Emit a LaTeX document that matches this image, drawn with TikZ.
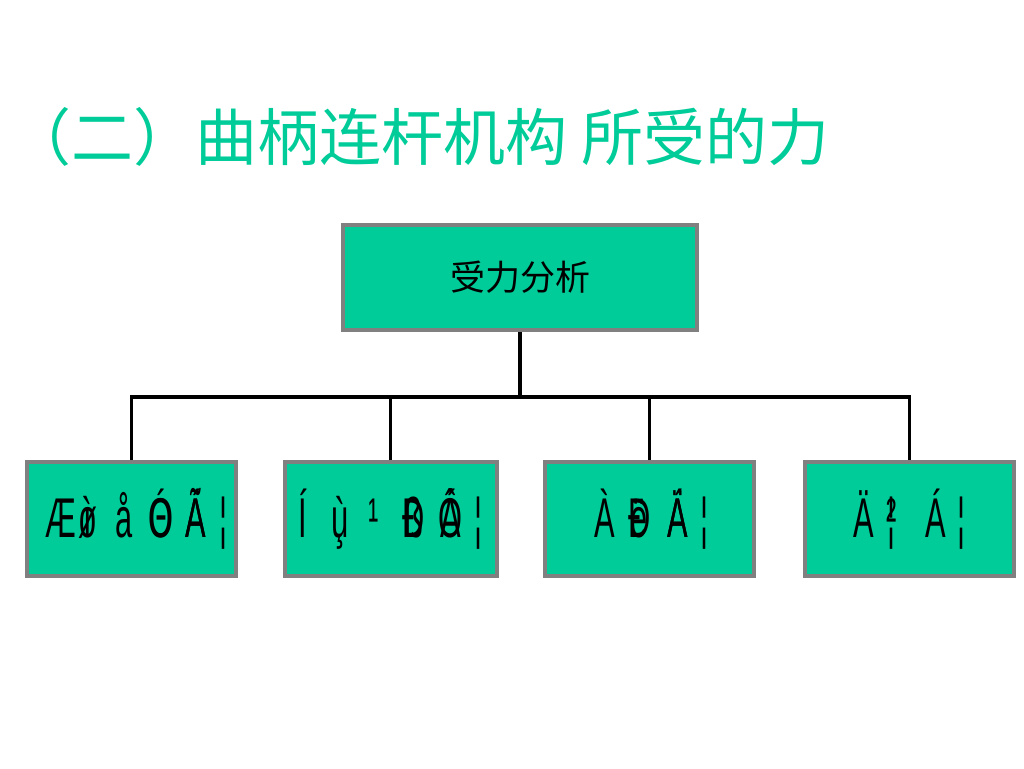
\documentclass[tikz,border=0pt]{standalone}
\usepackage{fontspec}
\usepackage{tikz}
\usepackage{xcolor}
\newfontfamily\cjk{Noto Sans CJK SC}
\newfontfamily\moji{Liberation Sans}[FakeStretch=0.55]
\definecolor{boxgreen}{RGB}{0,204,153}
\newcommand{\ovl}[2]{{\ooalign{\hfil#1\hfil\cr\hfil#2\hfil\cr}}}
\newcommand{\gslot}[2]{\makebox[#1pt]{#2}}

\begin{document}
\begin{tikzpicture}[x=1pt, y=-1pt,
  box/.style={draw=gray, line width=4pt, fill=boxgreen, inner sep=0pt,
    minimum width=209pt, minimum height=114pt},
  link/.style={line width=3.5pt, black}]
  % page frame
  \useasboundingbox (0,0) rectangle (1024,768);
  % title
  \node[anchor=west, text=boxgreen, font=\cjk\fontsize{62}{62}\selectfont] (title) at (6,137) {（二）曲柄连杆机构 所受的力};
  % top box
  \node[box, minimum width=354pt, minimum height=105pt, font=\cjk\fontsize{35}{35}\selectfont] (top) at (520,277.5) {受力分析};
  % bottom boxes
  \node[box, font=\moji\fontsize{56}{56}\selectfont] (b1) at (131.5,519) {\hspace{17pt}\gslot{24}{Æ}\gslot{30}{\ovl{ì}{ø}}\gslot{42}{å}\gslot{32}{\ovl{Ó}{Θ}}\gslot{38}{\ovl{Ã}{Á}}\gslot{16}{¦}};
  \node[box, font=\moji\fontsize{56}{56}\selectfont] (b2) at (390.5,519) {\gslot{36}{Í}\gslot{40}{\ovl{ù}{¸}}\gslot{26}{¹}\gslot{54}{\ovl{Ð}{ß}}\gslot{20}{\ovl{Ô}{Á}}\gslot{36}{¦}\hspace{9pt}};
  \node[box, font=\moji\fontsize{56}{56}\selectfont] (b3) at (649.5,519) {\gslot{34}{À}\gslot{36}{\ovl{Ð}{ë}}\gslot{40}{\ovl{Ä}{Á}}\gslot{14}{¦}\hspace{5pt}};
  \node[box, font=\moji\fontsize{56}{56}\selectfont] (b4) at (909.5,519) {\gslot{16}{Ä}\gslot{40}{\ovl{¦}{²}}\gslot{48}{Á}\gslot{4}{¦}\hspace{9pt}};
  % tree connectors
  \coordinate (bus) at (520,397);
  \draw[link] (top.south) -- (bus);
  \draw[link] (b1.north) -- (b1.north |- bus) -- (b4.north |- bus) -- (b4.north);
  \draw[link] (b2.north) -- (b2.north |- bus);
  \draw[link] (b3.north) -- (b3.north |- bus);
\end{tikzpicture}
\end{document}
